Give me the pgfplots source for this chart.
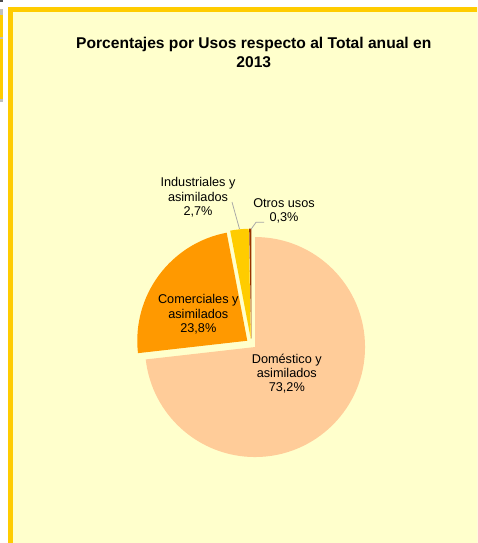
\documentclass[border=0pt]{standalone}
\usepackage{fontspec}
\setmainfont{Liberation Sans}
\usepackage{pgfplots}
\pgfplotsset{compat=1.18}
\usepackage{pgfplotstable}
\usetikzlibrary{calc}
\definecolor{bg}{HTML}{FFFFCC}
\definecolor{bord}{HTML}{FFCC00}
\definecolor{cDom}{HTML}{FFCC99}
\definecolor{cCom}{HTML}{FF9900}
\definecolor{cInd}{HTML}{FFCC00}
\definecolor{cOtr}{HTML}{993300}
\definecolor{lead}{HTML}{A6A6A6}

\pgfplotstableread{
label value
Domestico 73.2
Comerciales 23.8
Industriales 2.7
Otros 0.3
}\piedata
\pgfplotstablegetelem{0}{value}\of\piedata \let\vA\pgfplotsretval
\pgfplotstablegetelem{1}{value}\of\piedata \let\vB\pgfplotsretval
\pgfplotstablegetelem{2}{value}\of\piedata \let\vC\pgfplotsretval
\pgfplotstablegetelem{3}{value}\of\piedata \let\vD\pgfplotsretval
\pgfmathsetmacro\aA{90}
\pgfmathsetmacro\aB{\aA-3.6*\vA}
\pgfmathsetmacro\aC{\aB-3.6*\vB}
\pgfmathsetmacro\aD{\aC-3.6*\vC}
\pgfmathsetmacro\aE{\aD-3.6*\vD}

\newcommand\pieslice[3]{%
  \fill[#1] ($(axis cs:251.3,343.7)+({(#2+#3)/2}:5pt)$) -- ++(#2:110pt)
     arc[start angle=#2, end angle=#3, radius=110pt] -- cycle;}
\newcommand\lbl[3]{\node[anchor=base, inner sep=0pt, text=black,
   font=\fontsize{12.7}{14.5}\selectfont] at (axis cs:#1,#2) {#3};}

\begin{document}
\begin{tikzpicture}
\begin{axis}[hide axis, scale only axis, width=477pt, height=543pt,
  xmin=0, xmax=477, ymin=0, ymax=543, y dir=reverse, clip=true]
% background and frame
\fill[white] (axis cs:-3,-3) rectangle (axis cs:480,546);
\fill[bord] (axis cs:8,7) rectangle (axis cs:485,550);
\fill[bg] (axis cs:13.3,12.3) rectangle (axis cs:485,550);
% fragment of neighbouring object at left
\fill[black!70] (axis cs:-1,-1) rectangle (axis cs:3,1.7);
\fill[black!25] (axis cs:-1,9) rectangle (axis cs:3,102);
\fill[bord] (axis cs:-1,15) rectangle (axis cs:3,37);
\fill[bord] (axis cs:-1,39) rectangle (axis cs:3,99);
% title
\node[anchor=base, inner sep=0pt, font=\bfseries\fontsize{15.6}{18.5}\selectfont]
  at (axis cs:253.8,48.3) {Porcentajes por Usos respecto al Total anual en};
\node[anchor=base, inner sep=0pt, font=\bfseries\fontsize{15.6}{18.5}\selectfont]
  at (axis cs:253.8,67) {2013};
% pie
\pieslice{cDom}{\aA}{\aB}
\pieslice{cCom}{\aB}{\aC}
\pieslice{cInd}{\aC}{\aD}
\pieslice{cOtr}{\aD}{\aE}
% leader lines
\draw[lead, line width=0.75pt] (axis cs:232,202) -- (axis cs:239.5,229);
\draw[lead, line width=0.75pt] (axis cs:251,229.3) -- (axis cs:256,222.3) -- (axis cs:264,222.3);
% labels
\lbl{198}{186.7}{Industriales y}
\lbl{198}{201.5}{asimilados}
\lbl{198}{215.5}{2,7\%}
\lbl{284}{207.3}{Otros usos}
\lbl{284}{221.7}{0,3\%}
\lbl{198.3}{303.5}{Comerciales y}
\lbl{198.3}{318}{asimilados}
\lbl{198.3}{332.7}{23,8\%}
\lbl{286.8}{363.3}{Doméstico y}
\lbl{286.8}{377.7}{asimilados}
\lbl{286.8}{391.7}{73,2\%}
\end{axis}
\end{tikzpicture}
\end{document}
